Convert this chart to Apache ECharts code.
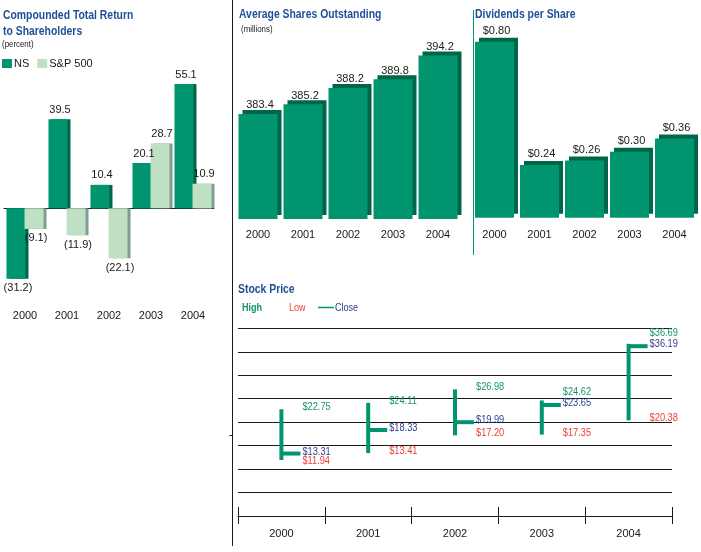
<!DOCTYPE html>
<html><head><meta charset="utf-8">
<script src="https://cdn.jsdelivr.net/npm/echarts/dist/echarts.min.js"></script>
<style>html,body{margin:0;padding:0;background:#fff;}#c{width:701px;height:552px;}</style>
</head><body><div id="c"></div>
<script>
// ---- data ----
const years = ['2000', '2001', '2002', '2003', '2004'];
const nsReturn = [-31.2, 39.5, 10.4, 20.1, 55.1];
const spReturn = [-9.1, -11.9, -22.1, 28.7, 10.9];
const avgShares = [383.4, 385.2, 388.2, 389.8, 394.2];
const dividends = [0.80, 0.24, 0.26, 0.30, 0.36];
const stockHigh = [22.75, 24.11, 26.98, 24.62, 36.69];
const stockLow = [11.94, 13.41, 17.20, 17.35, 20.38];
const stockClose = [13.31, 18.33, 19.99, 23.65, 36.19];

// ---- styles ----
const FONT = "'Liberation Sans', Arial, sans-serif";
const GREEN = '#00946f', DARK = '#00664a', LIGHT = '#bfe0c3', LIGHT_SH = '#7f9d95';
const BLUE = '#1f4f98', TEXT = '#1a1a1a', HIGH_C = '#17936b', LOW_C = '#ef3a34', CLOSE_C = '#2e3a8c';

const chart = echarts.init(document.getElementById('c'), null, {renderer: 'canvas'});

const negFmt = p => p.value < 0 ? '(' + Math.abs(p.value).toFixed(1) + ')' : p.value.toFixed(1);
const numLabel = {fontFamily: FONT, fontSize: 11, color: TEXT};
const catLabel = (margin) => ({show: true, fontFamily: FONT, fontSize: 11, color: TEXT, margin: margin});

// condensed-looking title text (real text, horizontally scaled)
const titleText = (text, x, y, size, bold, color, sx, lh) => ({
  type: 'text', x: x, y: y, scaleX: sx, silent: true,
  style: {text: text, fill: color, font: (bold ? 'bold ' : '') + size + 'px ' + FONT,
          verticalAlign: 'top', textAlign: 'left', lineHeight: lh || size}
});

const option = {
  animation: false,
  backgroundColor: '#fff',
  legend: {
    data: ['NS', 'S&P 500'], left: 2, top: 58, padding: 0, icon: 'rect',
    itemWidth: 10, itemHeight: 9, itemGap: 8, selectedMode: false,
    itemStyle: {shadowColor: 'transparent', shadowOffsetX: 0, shadowOffsetY: 0},
    textStyle: {fontFamily: FONT, fontSize: 11, color: TEXT, padding: [0, 0, 0, -3]}
  },
  grid: [
    {left: 4, width: 210, top: 73, height: 225.6},
    {left: 235.5, width: 225, top: 24, height: 195},
    {left: 472, width: 225, top: 19.7, height: 198},
    {left: 238, width: 434, top: 328.3, height: 187.7}
  ],
  xAxis: [
    {gridIndex: 0, type: 'category', data: years, axisLine: {onZero: true, lineStyle: {color: '#1a1a1a', width: 1}},
     axisTick: {show: false}, axisLabel: {show: false}},
    {gridIndex: 0, type: 'category', data: years, position: 'bottom', axisLine: {show: false, onZero: false},
     axisTick: {show: false}, axisLabel: catLabel(12)},
    {gridIndex: 1, type: 'category', data: years, position: 'bottom', axisLine: {show: false}, axisTick: {show: false}, axisLabel: catLabel(10)},
    {gridIndex: 2, type: 'category', data: years, position: 'bottom', axisLine: {show: false}, axisTick: {show: false}, axisLabel: catLabel(12)},
    {gridIndex: 3, type: 'category', data: years, position: 'bottom', boundaryGap: true,
     axisLine: {show: true, lineStyle: {color: '#1a1a1a', width: 1}},
     axisTick: {show: true, inside: true, length: 9, lineStyle: {color: '#1a1a1a'}},
     axisLabel: {show: true, fontFamily: FONT, fontSize: 11, color: TEXT, margin: 12}},
    {gridIndex: 3, type: 'category', data: years, position: 'bottom', boundaryGap: true,
     axisLine: {show: false}, axisTick: {show: true, inside: false, length: 8, lineStyle: {color: '#1a1a1a'}},
     axisLabel: {show: false}}
  ],
  yAxis: [
    {gridIndex: 0, type: 'value', min: -40, max: 60, show: false},
    {gridIndex: 1, type: 'value', min: 364, max: 400, show: false},
    {gridIndex: 2, type: 'value', min: 0, max: 0.9, show: false},
    {gridIndex: 3, type: 'value', min: 0, max: 40, interval: 5,
     axisLine: {show: false}, axisTick: {show: false}, axisLabel: {show: false},
     splitLine: {show: true, lineStyle: {color: '#1a1a1a', width: 1}}}
  ],
  graphic: [
    titleText('Compounded Total Return\nto Shareholders', 3, 7, 13, true, BLUE, 0.8, 16),
    titleText('(percent)', 2, 40, 9.5, false, TEXT, 0.83),
    titleText('Average Shares Outstanding', 239, 8, 13, true, BLUE, 0.8),
    titleText('(millions)', 241, 25, 9.5, false, TEXT, 0.83),
    titleText('Dividends per Share', 475, 8, 13, true, BLUE, 0.8),
    titleText('Stock Price', 238, 283, 13, true, BLUE, 0.8),
    {type: 'line', shape: {x1: 232.5, y1: 0, x2: 232.5, y2: 546}, style: {stroke: '#1a1a1a', lineWidth: 1}, silent: true},
    {type: 'line', shape: {x1: 229.5, y1: 435.5, x2: 232.5, y2: 435.5}, style: {stroke: '#1a1a1a', lineWidth: 1}, silent: true},
    {type: 'line', shape: {x1: 473.5, y1: 10, x2: 473.5, y2: 255}, style: {stroke: GREEN, lineWidth: 1}, silent: true},
    titleText('High', 242, 302, 11, true, HIGH_C, 0.82),
    titleText('Low', 289, 302, 11, false, LOW_C, 0.82),
    {type: 'line', shape: {x1: 318, y1: 307.5, x2: 334, y2: 307.5}, style: {stroke: GREEN, lineWidth: 1.5}, silent: true},
    titleText('Close', 335, 302, 11, false, CLOSE_C, 0.82)
  ],
  series: [
    {name: 'NS', type: 'bar', xAxisIndex: 0, yAxisIndex: 0, data: nsReturn,
     barWidth: 19, barGap: '-5%',
     itemStyle: {color: GREEN, shadowColor: DARK, shadowOffsetX: 3, shadowOffsetY: 0, shadowBlur: 0},
     label: {show: true, position: 'outside', distance: 4, offset: [2, 0], formatter: negFmt, ...numLabel}},
    {name: 'S&P 500', type: 'bar', xAxisIndex: 0, yAxisIndex: 0, data: spReturn,
     barWidth: 19, barGap: '-5%',
     itemStyle: {color: LIGHT, shadowColor: LIGHT_SH, shadowOffsetX: 3, shadowOffsetY: 0, shadowBlur: 0},
     label: {show: true, position: 'outside', distance: 4, offset: [2, 0], formatter: negFmt, ...numLabel}},
    {name: 'Average Shares', type: 'bar', xAxisIndex: 2, yAxisIndex: 1, data: avgShares,
     barWidth: 39,
     itemStyle: {color: GREEN, shadowColor: DARK, shadowOffsetX: 4, shadowOffsetY: -4, shadowBlur: 0},
     label: {show: true, position: 'top', distance: 3, offset: [2, 0], formatter: p => p.value.toFixed(1), ...numLabel}},
    {name: 'Dividends', type: 'bar', xAxisIndex: 3, yAxisIndex: 2, data: dividends,
     barWidth: 39,
     itemStyle: {color: GREEN, shadowColor: DARK, shadowOffsetX: 4, shadowOffsetY: -4, shadowBlur: 0},
     label: {show: true, position: 'top', distance: 5, offset: [2, 0], formatter: p => '$' + p.value.toFixed(2), ...numLabel}},
    {name: 'Stock Price', type: 'custom', xAxisIndex: 4, yAxisIndex: 3,
     data: years.map((y, i) => [i, stockHigh[i], stockLow[i], stockClose[i]]),
     renderItem: function (params, api) {
       const i = api.value(0);
       const hi = api.coord([i, api.value(1)]);
       const lo = api.coord([i, api.value(2)]);
       const cl = api.coord([i, api.value(3)]);
       const x = hi[0];
       let yH = hi[1], yC = cl[1], yL = lo[1];
       if (yC - yH < 11) yH = yC - 11;
       if (yL - yC < 9) yL = yC + 9;
       const lx = x + 21;
       const txt = (y, v, c) => ({type: 'text', x: lx, y: y - 2, scaleX: 0.84,
         style: {x: 0, y: 0, text: '$' + v.toFixed(2), fill: c,
         font: '11px ' + FONT, verticalAlign: 'middle', textAlign: 'left'}});
       return {type: 'group', children: [
         {type: 'line', shape: {x1: x, y1: hi[1], x2: x, y2: lo[1]}, style: {stroke: GREEN, lineWidth: 4}},
         {type: 'line', shape: {x1: x, y1: cl[1], x2: x + 19, y2: cl[1]}, style: {stroke: GREEN, lineWidth: 4}},
         txt(yH, api.value(1), HIGH_C),
         txt(yC, api.value(3), CLOSE_C),
         txt(yL, api.value(2), LOW_C)
       ]};
     }}
  ]
};
chart.setOption(option);
</script>
</body></html>
